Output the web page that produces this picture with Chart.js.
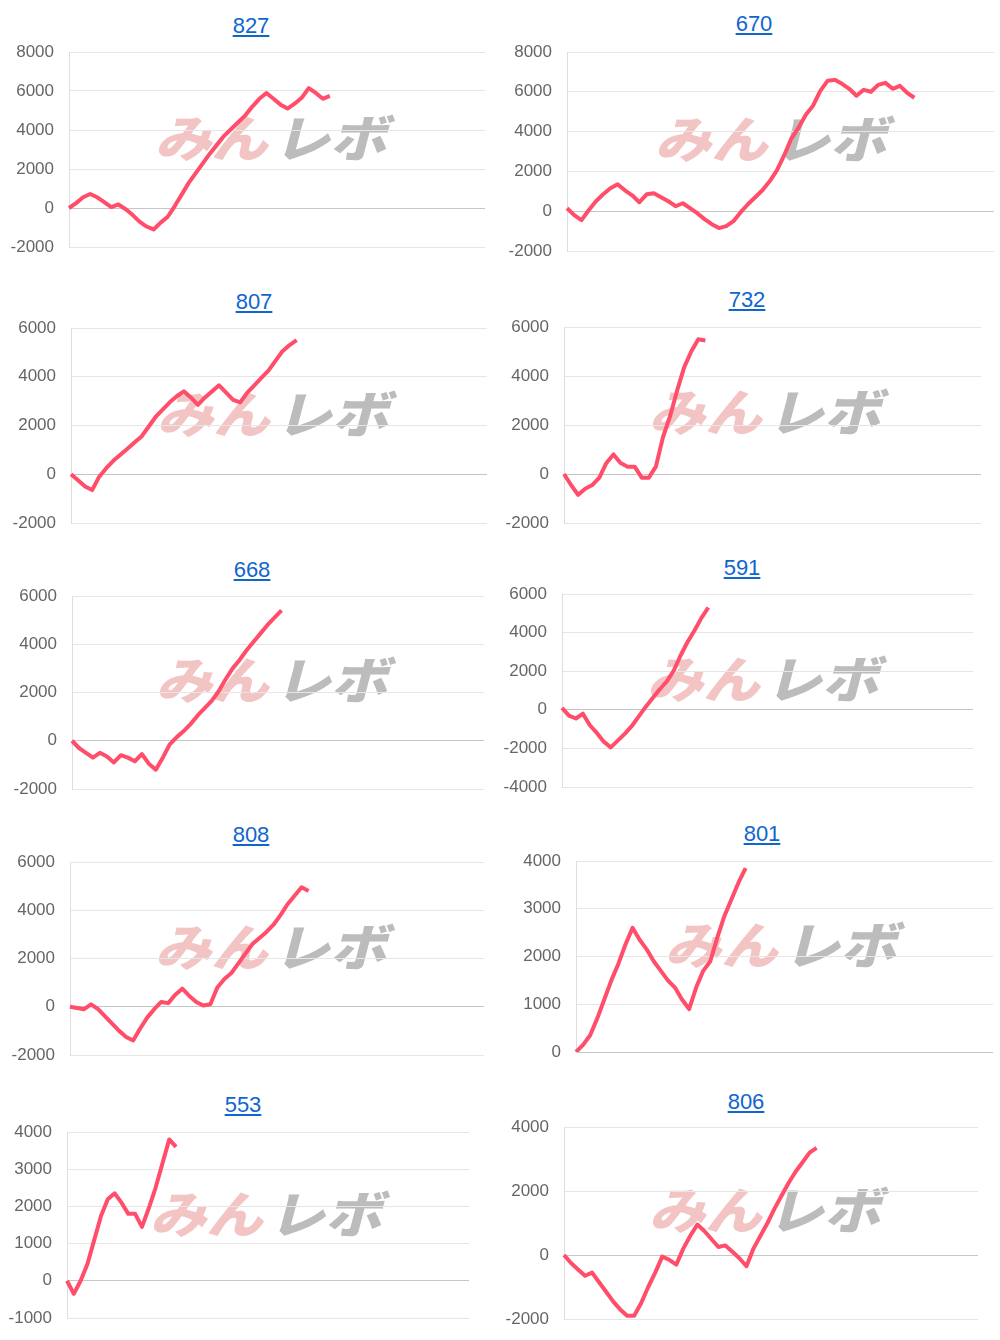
<!DOCTYPE html>
<html>
<head>
<meta charset="utf-8">
<script src="https://cdn.jsdelivr.net/npm/chart.js@4.4.1/dist/chart.umd.min.js"></script>
<style>
  html, body { margin: 0; padding: 0; background: #fff; }
  #page { position: relative; width: 1000px; height: 1340px; overflow: hidden; }
  .title {
    position: absolute; transform: translate(-50%, -50%);
    font: 22px "Helvetica Neue", Helvetica, Arial, sans-serif;
    color: #0f66cf; text-decoration: underline; white-space: nowrap;
  }
  .mark {
    position: absolute; white-space: nowrap; line-height: 1;
    font-family: "Noto Sans CJK JP", sans-serif; font-weight: 900;
    font-size: 50px; letter-spacing: 0px;
    transform: scale(1.13, 1) skewX(-13deg);
    transform-origin: left bottom;
  }
  .mark .a { color: #f2c4c4; margin-right: 5px; }
  .mark .b { color: #bcbcbc; }
  canvas { position: absolute; }
</style>
</head>
<body>
<div id="page"></div>
<script>
// chart titles (machine numbers)
const titles = ['827', '670', '807', '732', '668', '591', '808', '801', '553', '806'];

// y axis ranges
const yMin  = [-2000, -2000, -2000, -2000, -2000, -4000, -2000, 0, -1000, -2000];
const yMax  = [8000, 8000, 6000, 6000, 6000, 6000, 6000, 4000, 4000, 4000];
const yStep = [2000, 2000, 2000, 2000, 2000, 2000, 2000, 1000, 1000, 2000];

// x slots per chart (the day is not over yet, lines stop part way)
const slotCount = 60;

// cumulative difference per machine
const s827 = [0, 250, 550, 720, 550, 300, 50, 180, -50, -350, -700, -950, -1100, -750, -450, 100,
  700, 1300, 1800, 2300, 2800, 3250, 3700, 4050, 4400, 4750, 5200, 5600, 5900, 5600, 5300, 5100,
  5350, 5650, 6150, 5900, 5600, 5750];
const s670 = [150, -200, -450, 50, 500, 850, 1150, 1350, 1050, 800, 450, 850, 900, 700, 500, 250,
  400, 150, -100, -400, -650, -850, -750, -500, -50, 350, 700, 1050, 1500, 2050, 2800, 3650,
  4200, 4850, 5300, 6050, 6550, 6600, 6400, 6150, 5800, 6100, 6000, 6350, 6450, 6150, 6300, 5950, 5700];
const s807 = [0, -250, -500, -650, -100, 250, 550, 800, 1050, 1300, 1550, 1950, 2350, 2650, 2950, 3200,
  3400, 3150, 2850, 3150, 3400, 3650, 3350, 3050, 2950, 3350, 3650, 3950, 4250, 4650, 5050, 5300, 5500];
const s732 = [0, -450, -850, -600, -450, -150, 450, 800, 450, 300, 300, -150, -150, 300, 1500, 2350,
  3400, 4350, 5000, 5500, 5450];
const s668 = [0, -300, -500, -700, -500, -650, -900, -600, -700, -850, -550, -950, -1200, -700, -150, 150,
  400, 700, 1050, 1350, 1650, 2050, 2550, 3000, 3350, 3750, 4100, 4450, 4800, 5100, 5400];
const s591 = [100, -300, -450, -200, -800, -1200, -1650, -1950, -1600, -1250, -850, -350, 150, 600, 1050,
  1450, 2000, 2800, 3500, 4100, 4750, 5300];
const s808 = [0, -50, -100, 100, -100, -400, -700, -1000, -1250, -1400, -900, -450, -100, 200, 150, 500,
  750, 450, 200, 50, 100, 800, 1150, 1400, 1800, 2200, 2600, 2850, 3100, 3400, 3800, 4250, 4600, 4950, 4800];
const s801 = [0, 150, 350, 700, 1100, 1500, 1850, 2250, 2600, 2350, 2150, 1900, 1700, 1500, 1350, 1100,
  900, 1350, 1700, 1900, 2400, 2850, 3200, 3550, 3850];
const s553 = [0, -350, 0, 450, 1100, 1750, 2200, 2350, 2100, 1800, 1800, 1450, 1950, 2500, 3150, 3800, 3600];
const s806 = [0, -250, -450, -650, -550, -850, -1150, -1450, -1700, -1900, -1900, -1500, -1000, -550, -50, -150,
  -300, 200, 600, 950, 750, 500, 250, 300, 100, -100, -350, 200, 600, 1000, 1450, 1850, 2250, 2600, 2900, 3200, 3350];

const seriesList = [s827, s670, s807, s732, s668, s591, s808, s801, s553, s806];

// page layout: plot area [left, right, top, bottom], title centre, watermark top-left
const panels = [
  { area: [69, 485, 52, 247],     title: [251, 26],   mark: [154, 116] },
  { area: [567, 994, 52, 251],    title: [754, 24],   mark: [654, 117] },
  { area: [71, 487, 328, 523],    title: [254, 302],  mark: [156, 392] },
  { area: [564, 981, 327, 523],   title: [747, 300],  mark: [648, 390] },
  { area: [72, 484, 596, 789],    title: [252, 570],  mark: [155, 658] },
  { area: [562, 973, 594, 787],   title: [742, 568],  mark: [646, 657] },
  { area: [70, 484, 862, 1055],   title: [251, 835],  mark: [154, 925] },
  { area: [576, 993, 861, 1052],  title: [762, 834],  mark: [664, 923] },
  { area: [67, 469, 1132, 1318],  title: [243, 1105], mark: [149, 1192] },
  { area: [564, 978, 1127, 1319], title: [746, 1102], mark: [648, 1188] }
];

Chart.defaults.font.family = '"Helvetica Neue", Helvetica, Arial, sans-serif';
Chart.defaults.color = '#666';

const page = document.getElementById('page');
const AXIS_W = 62;
const PAD = 12;
const slots = Array.from({ length: slotCount }, (_, i) => String(i + 1));

panels.forEach((p, idx) => {
  const [L, R, T, B] = p.area;

  const mark = document.createElement('div');
  mark.className = 'mark';
  mark.style.left = p.mark[0] + 'px';
  mark.style.top = (p.mark[1] - 6) + 'px';
  mark.innerHTML = '<span class="a">みん</span><span class="b">レボ</span>';
  page.appendChild(mark);

  const title = document.createElement('a');
  title.className = 'title';
  title.href = '#';
  title.textContent = titles[idx];
  title.style.left = p.title[0] + 'px';
  title.style.top = p.title[1] + 'px';
  page.appendChild(title);

  const canvas = document.createElement('canvas');
  const w = R - L + AXIS_W + 1;
  const h = B - T + PAD * 2;
  canvas.width = w;
  canvas.height = h;
  canvas.style.left = (L - AXIS_W) + 'px';
  canvas.style.top = (T - PAD) + 'px';
  canvas.style.width = w + 'px';
  canvas.style.height = h + 'px';
  page.appendChild(canvas);

  new Chart(canvas.getContext('2d'), {
    type: 'line',
    data: {
      labels: slots,
      datasets: [{
        data: seriesList[idx],
        borderColor: '#ff4d6a',
        borderWidth: 4,
        pointRadius: 0,
        tension: 0,
        borderJoinStyle: 'round',
        fill: false
      }]
    },
    options: {
      responsive: false,
      animation: false,
      events: [],
      layout: { autoPadding: false, padding: { top: PAD, bottom: PAD, left: 0, right: 1 } },
      plugins: { legend: { display: false }, tooltip: { enabled: false } },
      scales: {
        x: { display: false },
        y: {
          min: yMin[idx],
          max: yMax[idx],
          afterFit: (scale) => {
            scale.width = AXIS_W;
            scale.paddingTop = 0;
            scale.paddingBottom = 0;
          },
          ticks: {
            stepSize: yStep[idx], padding: 15, color: '#666', font: { size: 17 },
            callback: (v) => String(v)
          },
          grid: {
            drawTicks: false,
            color: (ctx) => (ctx.tick && ctx.tick.value === 0) ? '#c6c6c6' : '#e6e6e6'
          },
          border: { display: true, color: '#dedede' }
        }
      }
    }
  });
});
</script>
</body>
</html>
